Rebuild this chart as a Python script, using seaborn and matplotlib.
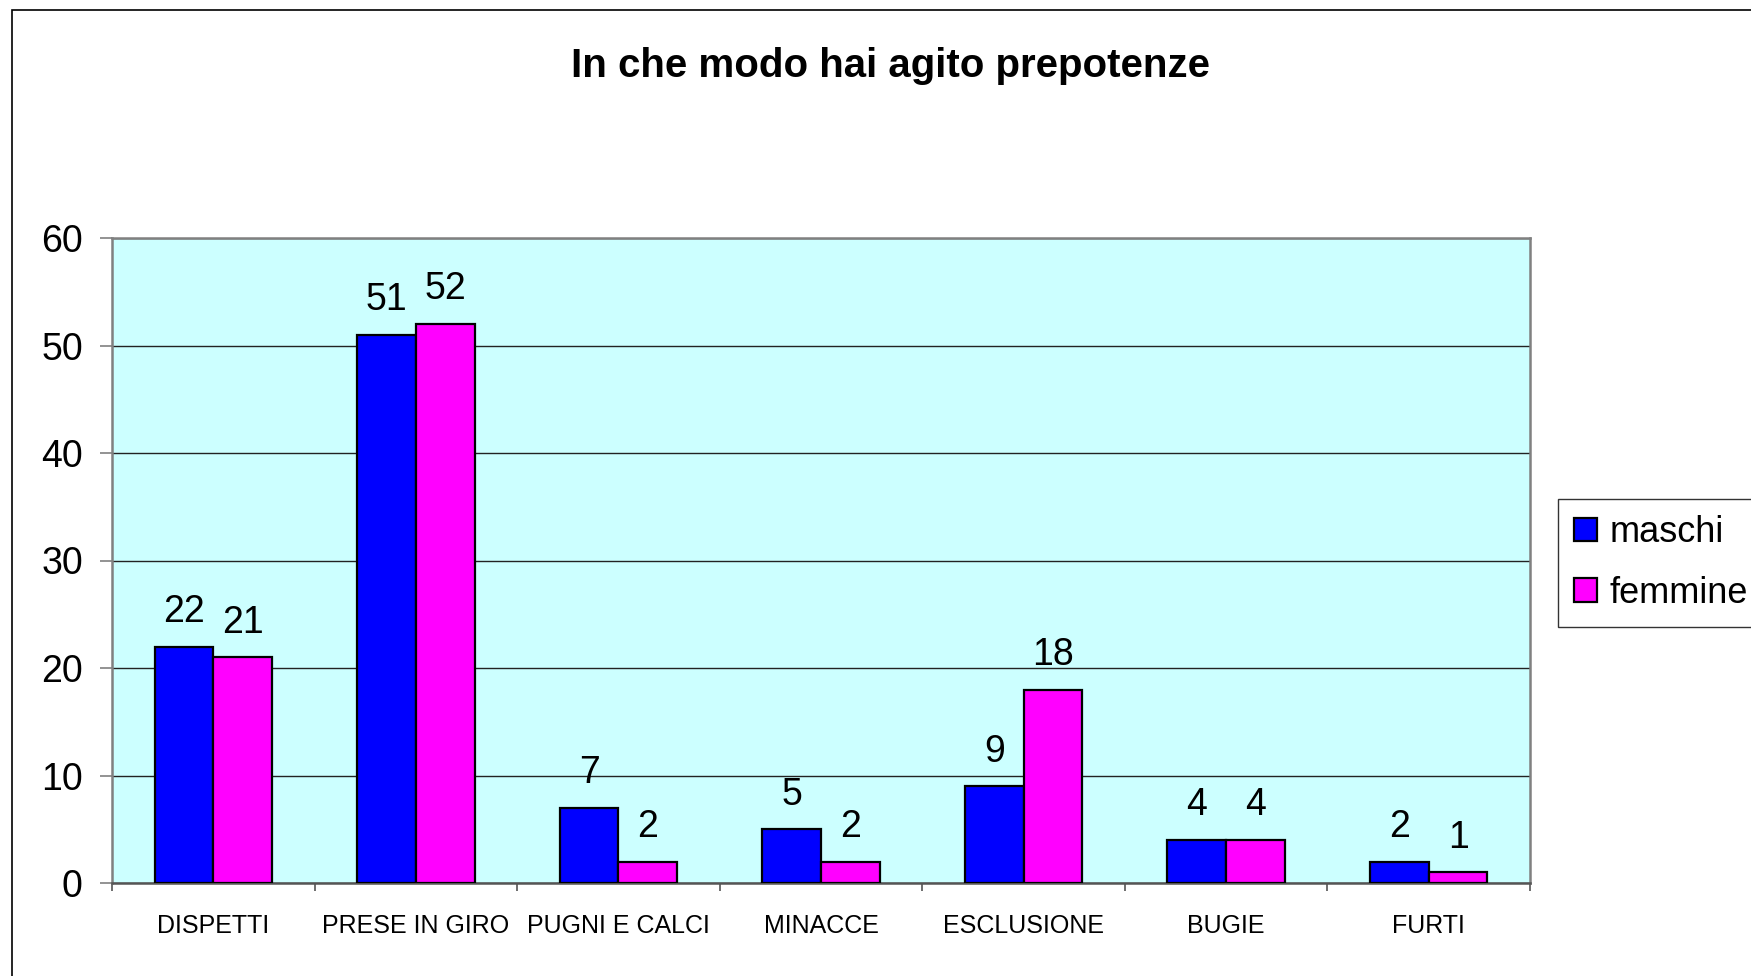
import pandas as pd
import seaborn as sns
import matplotlib.pyplot as plt
from matplotlib.patches import Rectangle

categorie = ["DISPETTI", "PRESE IN GIRO", "PUGNI E CALCI", "MINACCE",
             "ESCLUSIONE", "BUGIE", "FURTI"]
maschi = [22, 51, 7, 5, 9, 4, 2]
femmine = [21, 52, 2, 2, 18, 4, 1]
serie = ["maschi", "femmine"]
colori = ["#0000FF", "#FF00FF"]
yticks = [0, 10, 20, 30, 40, 50, 60]

df = pd.DataFrame({
    "categoria": categorie * 2,
    "valore": maschi + femmine,
    "sesso": [serie[0]] * len(categorie) + [serie[1]] * len(categorie),
})

sns.set_style("white")
plt.rcParams['font.family'] = ['Liberation Sans', 'DejaVu Sans']
plt.rcParams['text.color'] = 'black'
plt.rcParams['xtick.color'] = 'black'
plt.rcParams['ytick.color'] = 'black'

fig = plt.figure(figsize=(17.51, 9.76), dpi=100)
ax = fig.add_axes([112 / 1751, 1 - 883 / 976, 1418 / 1751, 645 / 976])
ax.set_facecolor("#CCFFFF")

sns.barplot(data=df, x="categoria", y="valore", hue="sesso", palette=colori,
            width=0.58, edgecolor="black", linewidth=1.6, saturation=1,
            ax=ax, zorder=3)

for c in ax.containers:
    ax.bar_label(c, padding=12, fontsize=27, color='black')

ax.set_ylim(0, 60)
ax.set_xlim(-0.5, len(categorie) - 0.5)
ax.set_yticks(yticks)
ax.tick_params(axis='y', labelsize=27, length=9, width=1.2, color='#808080',
               pad=12, left=True)
ax.set_xticks(range(len(categorie)))
ax.set_xticklabels(categorie, fontsize=18)
ax.tick_params(axis='x', which='major', length=0, pad=22)
ax.set_xticks([i - 0.5 for i in range(len(categorie) + 1)], minor=True)
ax.tick_params(axis='x', which='minor', length=6, width=1.2, color='#555555',
               bottom=True)
ax.yaxis.grid(True, color='#222222', lw=1, zorder=0)
ax.set_axisbelow(True)
for s in ax.spines.values():
    s.set_color('#808080')
    s.set_linewidth(1.8)
ax.spines['bottom'].set_color('#555555')
ax.set_xlabel("")
ax.set_ylabel("")

ax.legend_.remove()
h, l = ax.get_legend_handles_labels()
fig.legend(h, l, loc='upper left', bbox_to_anchor=(1558 / 1751, 1 - 499 / 976),
           fontsize=26, frameon=True, fancybox=False, edgecolor='black',
           handlelength=0.63, handleheight=0.63, handletextpad=0.35,
           labelspacing=0.7, borderpad=0.45, borderaxespad=0)

fig.text(890 / 1751, 1 - 66 / 976, "In che modo hai agito prepotenze",
         fontsize=29, fontweight='bold', ha='center', va='center')

# cornice esterna del grafico (tagliata a destra e in basso)
fig.patches.append(Rectangle((12 / 1751, -0.2), 1.2, 1.2 - 10 / 976,
                             transform=fig.transFigure, fill=False,
                             edgecolor='black', lw=1.2))

fig.savefig("out.png", dpi=100)
